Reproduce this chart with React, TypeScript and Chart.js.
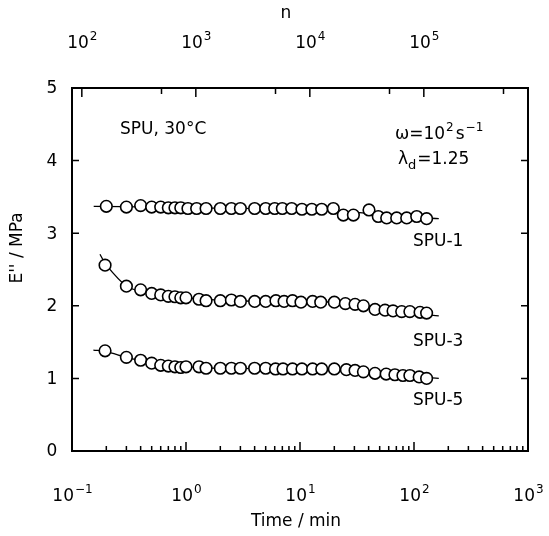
import React, { useEffect, useRef } from "react";
import { Chart, registerables } from "chart.js";

Chart.register(...registerables);

// ---- data ----
const TIME_SPU1 = [0.2, 0.3, 0.4, 0.5, 0.6, 0.7, 0.8, 0.9, 1.04, 1.24, 1.5, 2, 2.5, 3, 4, 5, 6, 7, 8.45, 10.4, 12.7, 15.5, 19.6, 24, 29.4, 40.3, 48.6, 57.6, 70.5, 86.3, 105.6, 129];
const E_SPU1 = [3.37, 3.36, 3.38, 3.36, 3.36, 3.35, 3.35, 3.35, 3.34, 3.34, 3.34, 3.34, 3.34, 3.34, 3.34, 3.34, 3.34, 3.34, 3.34, 3.33, 3.33, 3.33, 3.34, 3.25, 3.25, 3.32, 3.23, 3.21, 3.21, 3.21, 3.23, 3.2];

const TIME_SPU3 = [0.195, 0.3, 0.4, 0.5, 0.6, 0.7, 0.8, 0.9, 1.0, 1.3, 1.5, 2, 2.5, 3, 4, 5, 6.15, 7.25, 8.6, 10.2, 12.9, 15.2, 20, 25, 30.4, 36, 45.5, 55.7, 65.5, 78, 92, 113, 129];
const E_SPU3 = [2.56, 2.27, 2.22, 2.17, 2.15, 2.13, 2.125, 2.11, 2.11, 2.09, 2.07, 2.07, 2.08, 2.06, 2.06, 2.06, 2.07, 2.06, 2.07, 2.05, 2.06, 2.05, 2.05, 2.03, 2.02, 2.0, 1.95, 1.94, 1.93, 1.92, 1.92, 1.91, 1.9];

const TIME_SPU5 = [0.195, 0.3, 0.4, 0.5, 0.6, 0.7, 0.8, 0.9, 1.0, 1.3, 1.5, 2, 2.5, 3, 4, 5, 6.1, 7.1, 8.6, 10.4, 12.9, 15.5, 20, 25.5, 30.4, 36, 45.5, 57, 68, 80, 92, 111, 129];
const E_SPU5 = [1.38, 1.29, 1.25, 1.21, 1.18, 1.17, 1.16, 1.15, 1.16, 1.16, 1.14, 1.14, 1.14, 1.14, 1.14, 1.14, 1.13, 1.13, 1.13, 1.13, 1.13, 1.13, 1.13, 1.12, 1.11, 1.09, 1.07, 1.06, 1.05, 1.04, 1.04, 1.02, 1.0];

// fitted curves drawn through each series
const FIT_T1 = [0.155, 0.5, 1, 10, 20, 50, 100, 165];
const FIT_E1 = [3.37, 3.36, 3.35, 3.33, 3.31, 3.26, 3.22, 3.2];
const FIT_T3 = [0.176, 0.2, 0.3, 0.4, 0.5, 0.7, 1, 2, 5, 10, 20, 30, 50, 100, 165];
const FIT_E3 = [2.71, 2.56, 2.27, 2.2, 2.16, 2.13, 2.11, 2.08, 2.06, 2.06, 2.05, 2.02, 1.97, 1.9, 1.86];
const FIT_T5 = [0.154, 0.2, 0.3, 0.5, 0.7, 1, 2, 10, 20, 30, 50, 100, 165];
const FIT_E5 = [1.39, 1.37, 1.29, 1.21, 1.17, 1.16, 1.14, 1.13, 1.13, 1.11, 1.07, 1.03, 1.0];

const SERIES_LABELS = ["SPU-1", "SPU-3", "SPU-5"];

// axes
const X_RANGE = [0.1, 1000];
const X_EXPONENTS = [-1, 0, 1, 2, 3];
const N_RANGE = [82, 820000];
const N_EXPONENTS = [2, 3, 4, 5];
const Y_RANGE = [0, 5];
const Y_TICKS = [0, 1, 2, 3, 4, 5];

const FONT = "'DejaVu Sans', sans-serif";

function toXY(t: number[], e: number[]) {
  return t.map((v, i) => ({ x: v, y: e[i] }));
}

function drawPower(ctx: CanvasRenderingContext2D, base: string, exp: string, cx: number, baseline: number, size: number) {
  const expSize = Math.round(size * 0.72);
  ctx.font = `${size}px ${FONT}`;
  const w1 = ctx.measureText(base).width;
  ctx.font = `${expSize}px ${FONT}`;
  const w2 = ctx.measureText(exp).width;
  const x0 = cx - (w1 + w2) / 2;
  ctx.textAlign = "left";
  ctx.textBaseline = "alphabetic";
  ctx.font = `${size}px ${FONT}`;
  ctx.fillText(base, x0, baseline);
  ctx.font = `${expSize}px ${FONT}`;
  ctx.fillText(exp, x0 + w1 + 1, baseline - size * 0.45);
}

const decor = {
  id: "decor",
  beforeDraw(chart: any) {
    const ctx = chart.ctx;
    ctx.save();
    ctx.fillStyle = "#fff";
    ctx.fillRect(0, 0, chart.width, chart.height);
    ctx.restore();
  },
  afterDatasetsDraw(chart: any) {
    const ctx: CanvasRenderingContext2D = chart.ctx;
    const { left, right, top, bottom } = chart.chartArea;
    const xs = chart.scales.x;
    const ns = chart.scales.n;
    const ys = chart.scales.y;
    ctx.save();
    ctx.strokeStyle = "#000";
    ctx.fillStyle = "#000";

    // frame
    ctx.lineWidth = 2;
    ctx.strokeRect(left, top, right - left, bottom - top);

    ctx.lineWidth = 1.5;
    ctx.beginPath();
    // bottom axis ticks (time)
    for (let k = -1; k <= 2; k++) {
      for (let m = 1; m <= 9; m++) {
        const v = m * Math.pow(10, k);
        const px = xs.getPixelForValue(v);
        const len = m === 1 ? 9 : 5;
        ctx.moveTo(px, bottom);
        ctx.lineTo(px, bottom - len);
      }
    }
    // top axis ticks (n)
    for (const k of N_EXPONENTS.concat([6])) {
      for (const m of [1, 5]) {
        const v = m * Math.pow(10, k);
        if (v < N_RANGE[0] || v > N_RANGE[1]) continue;
        const px = ns.getPixelForValue(v);
        const len = m === 1 ? 9 : 6;
        ctx.moveTo(px, top);
        ctx.lineTo(px, top + len);
      }
    }
    // y ticks both sides
    for (const v of Y_TICKS) {
      if (v === Y_RANGE[0] || v === Y_RANGE[1]) continue;
      const py = ys.getPixelForValue(v);
      ctx.moveTo(left, py);
      ctx.lineTo(left + 7, py);
      ctx.moveTo(right, py);
      ctx.lineTo(right - 7, py);
    }
    ctx.stroke();

    // bottom labels
    for (const k of X_EXPONENTS) {
      const px = xs.getPixelForValue(Math.pow(10, k));
      drawPower(ctx, "10", k < 0 ? "\u2212" + Math.abs(k) : String(k), px, 501, 17);
    }
    // top labels
    for (const k of N_EXPONENTS) {
      const px = ns.getPixelForValue(Math.pow(10, k));
      drawPower(ctx, "10", String(k), px, 48, 17);
    }
    // y labels
    ctx.font = `17px ${FONT}`;
    ctx.textAlign = "center";
    ctx.textBaseline = "middle";
    for (const v of Y_TICKS) {
      ctx.fillText(String(v), 52, ys.getPixelForValue(v) + 1);
    }

    // axis titles
    ctx.font = `17px ${FONT}`;
    ctx.textAlign = "center";
    ctx.textBaseline = "middle";
    ctx.fillText("Time / min", 296, 522);
    ctx.fillText("n", 286, 14);
    ctx.save();
    ctx.translate(18, 248);
    ctx.rotate(-Math.PI / 2);
    ctx.fillText("E'' / MPa", 0, 0);
    ctx.restore();

    // annotations
    ctx.textAlign = "left";
    ctx.textBaseline = "middle";
    ctx.font = `17px ${FONT}`;
    ctx.fillText("SPU, 30\u00b0C", 120, 130);
    // omega
    let x = 395;
    const yb = 139;
    ctx.textBaseline = "alphabetic";
    ctx.font = `17px ${FONT}`;
    ctx.fillText("\u03c9=10", x, yb);
    x += ctx.measureText("\u03c9=10").width + 1;
    ctx.font = `12px ${FONT}`;
    ctx.fillText("2", x, yb - 8);
    x += ctx.measureText("2").width + 2;
    ctx.font = `17px ${FONT}`;
    ctx.fillText("s", x, yb);
    x += ctx.measureText("s").width + 1;
    ctx.font = `12px ${FONT}`;
    ctx.fillText("\u22121", x, yb - 8);
    // lambda_d
    x = 398;
    const yl = 164;
    ctx.font = `17px ${FONT}`;
    ctx.fillText("\u03bb", x, yl);
    x += ctx.measureText("\u03bb").width;
    ctx.font = `13px ${FONT}`;
    ctx.fillText("d", x, yl + 5);
    x += ctx.measureText("d").width + 1;
    ctx.font = `17px ${FONT}`;
    ctx.fillText("=1.25", x, yl);

    // series labels
    ctx.textBaseline = "middle";
    ctx.font = `17px ${FONT}`;
    const labelY = [242, 342, 401];
    SERIES_LABELS.forEach((s, i) => ctx.fillText(s, 413, labelY[i]));

    ctx.restore();
  },
};

export default function App() {
  const ref = useRef<HTMLCanvasElement | null>(null);
  useEffect(() => {
    if (!ref.current) return;
    const lineDs = (t: number[], e: number[]) => ({
      type: "scatter" as const,
      data: toXY(t, e),
      showLine: true,
      borderColor: "#000",
      borderWidth: 1.3,
      pointRadius: 0,
      tension: 0.3,
      fill: false,
      order: 2,
    });
    const ptDs = (t: number[], e: number[], label: string) => ({
      type: "scatter" as const,
      label,
      data: toXY(t, e),
      showLine: false,
      pointRadius: 5.8,
      pointBorderWidth: 1.6,
      pointBorderColor: "#000",
      pointBackgroundColor: "#fff",
      order: 1,
    });
    const chart = new Chart(ref.current, {
      type: "scatter",
      data: {
        datasets: [
          lineDs(FIT_T1, FIT_E1),
          lineDs(FIT_T3, FIT_E3),
          lineDs(FIT_T5, FIT_E5),
          ptDs(TIME_SPU1, E_SPU1, SERIES_LABELS[0]),
          ptDs(TIME_SPU3, E_SPU3, SERIES_LABELS[1]),
          ptDs(TIME_SPU5, E_SPU5, SERIES_LABELS[2]),
        ],
      } as any,
      options: {
        animation: false,
        responsive: false,
        layout: { padding: { left: 72, right: 21, top: 88, bottom: 85 } },
        plugins: { legend: { display: false }, tooltip: { enabled: false } },
        scales: {
          x: { type: "logarithmic", min: X_RANGE[0], max: X_RANGE[1], display: false },
          n: { type: "logarithmic", axis: "x", position: "top", min: N_RANGE[0], max: N_RANGE[1], display: false },
          y: { type: "linear", min: Y_RANGE[0], max: Y_RANGE[1], display: false },
        },
      } as any,
      plugins: [decor],
    });
    return () => chart.destroy();
  }, []);
  return (
    <div style={{ position: "fixed", left: 0, top: 0, width: 549, height: 536, background: "#fff" }}>
      <canvas ref={ref} width={549} height={536} style={{ display: "block" }} />
    </div>
  );
}
